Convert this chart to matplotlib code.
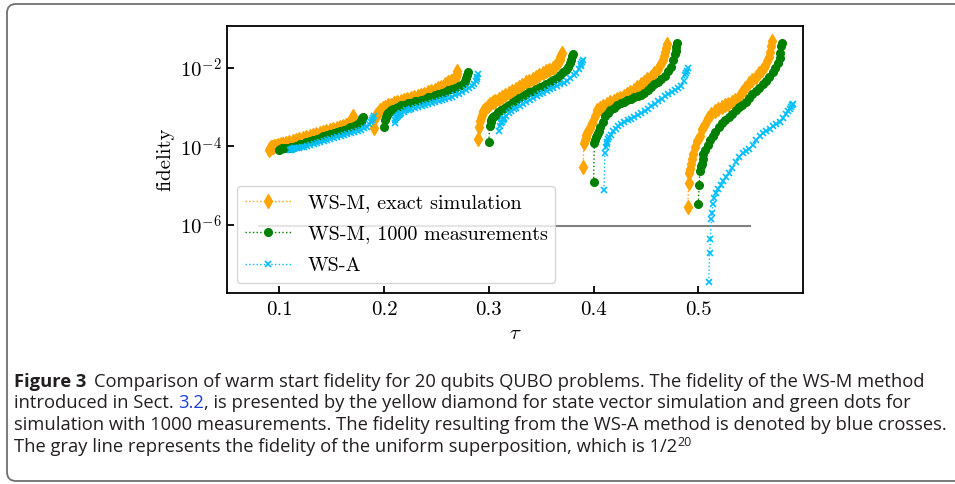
import numpy as np
import matplotlib
matplotlib.use("Agg")
import matplotlib.pyplot as plt
from matplotlib.patches import FancyBboxPatch
from matplotlib.transforms import IdentityTransform
from matplotlib.ticker import FixedLocator, NullLocator, FuncFormatter

# ---------------- data ----------------
taus = [0.1, 0.2, 0.3, 0.4, 0.5]
# rank (0..99) of the plotted instances after sorting by fidelity
ranks = [0, 1, 2, 3, 4, 5, 6, 8, 11, 14, 17, 20, 24, 28, 32, 36, 40, 44, 48, 52,
         56, 60, 64, 68, 72, 76, 80, 84, 88, 91, 94, 96, 97, 98, 99]
n_instances = 100
rank_span = 0.08
method_offsets = [-0.01, 0.0, 0.01]
uniform_fidelity = 2.0 ** -20
uniform_x = [0.08, 0.55]

# log10(fidelity), sorted
wsm_exact_01 = [-4.08, -4.04, -4.03, -4.02, -4.02, -4.01, -4.00, -3.99, -3.97, -3.95, -3.93, -3.91,
                -3.89, -3.86, -3.84, -3.81, -3.79, -3.76, -3.74, -3.71, -3.69, -3.66, -3.64, -3.61,
                -3.59, -3.56, -3.54, -3.51, -3.49, -3.47, -3.44, -3.39, -3.33, -3.28, -3.22]
wsm_meas_01 = [-4.10, -4.07, -4.06, -4.05, -4.05, -4.04, -4.04, -4.03, -4.03, -4.02, -4.01, -3.98,
               -3.95, -3.93, -3.90, -3.87, -3.84, -3.81, -3.78, -3.75, -3.72, -3.69, -3.67, -3.64,
               -3.61, -3.58, -3.55, -3.52, -3.49, -3.46, -3.42, -3.38, -3.34, -3.29, -3.25]
wsa_01 = [-4.10, -4.08, -4.07, -4.06, -4.06, -4.05, -4.05, -4.04, -4.03, -4.02, -4.01, -3.99,
          -3.97, -3.94, -3.92, -3.89, -3.87, -3.84, -3.82, -3.79, -3.76, -3.74, -3.71, -3.69,
          -3.66, -3.63, -3.61, -3.58, -3.54, -3.50, -3.44, -3.38, -3.33, -3.27, -3.22]

wsm_exact_02 = [-3.53, -3.32, -3.25, -3.21, -3.18, -3.15, -3.12, -3.08, -3.03, -2.99, -2.96, -2.94,
                -2.91, -2.88, -2.85, -2.82, -2.80, -2.78, -2.76, -2.73, -2.70, -2.67, -2.63, -2.60,
                -2.56, -2.53, -2.49, -2.43, -2.37, -2.33, -2.31, -2.29, -2.24, -2.17, -2.09]
wsm_meas_02 = [-3.52, -3.32, -3.25, -3.21, -3.18, -3.15, -3.12, -3.09, -3.05, -3.02, -2.99, -2.96,
               -2.94, -2.91, -2.89, -2.86, -2.84, -2.82, -2.79, -2.76, -2.74, -2.71, -2.68, -2.65,
               -2.61, -2.58, -2.55, -2.52, -2.48, -2.45, -2.40, -2.33, -2.26, -2.19, -2.12]
wsa_02 = [-3.40, -3.33, -3.29, -3.26, -3.23, -3.21, -3.19, -3.16, -3.12, -3.09, -3.07, -3.05,
          -3.02, -3.00, -2.97, -2.95, -2.93, -2.91, -2.88, -2.86, -2.83, -2.80, -2.77, -2.74,
          -2.71, -2.67, -2.63, -2.58, -2.52, -2.47, -2.41, -2.35, -2.30, -2.24, -2.17]

wsm_exact_03 = [-3.82, -3.50, -3.35, -3.27, -3.20, -3.14, -3.10, -3.04, -2.97, -2.92, -2.88, -2.84,
                -2.79, -2.74, -2.69, -2.64, -2.59, -2.54, -2.49, -2.44, -2.38, -2.33, -2.28, -2.23,
                -2.18, -2.14, -2.10, -2.06, -2.02, -1.96, -1.88, -1.80, -1.74, -1.69, -1.64]
wsm_meas_03 = [-3.88, -3.48, -3.38, -3.32, -3.28, -3.25, -3.23, -3.20, -3.14, -3.09, -3.04, -3.00,
               -2.94, -2.88, -2.83, -2.78, -2.73, -2.68, -2.63, -2.59, -2.55, -2.50, -2.46, -2.41,
               -2.36, -2.32, -2.26, -2.20, -2.12, -2.06, -1.98, -1.88, -1.80, -1.72, -1.65]
wsa_03 = [-3.60, -3.48, -3.42, -3.37, -3.33, -3.30, -3.27, -3.22, -3.16, -3.11, -3.06, -3.02,
          -2.97, -2.92, -2.87, -2.83, -2.78, -2.73, -2.68, -2.64, -2.60, -2.55, -2.51, -2.47,
          -2.43, -2.39, -2.33, -2.27, -2.20, -2.14, -2.05, -1.97, -1.92, -1.86, -1.80]

wsm_exact_04 = [-4.52, -3.92, -3.85, -3.78, -3.72, -3.67, -3.62, -3.54, -3.40, -3.24, -3.08, -3.02,
                -2.97, -2.92, -2.88, -2.85, -2.81, -2.78, -2.73, -2.68, -2.62, -2.57, -2.50, -2.43,
                -2.36, -2.29, -2.23, -2.15, -2.04, -1.94, -1.82, -1.70, -1.60, -1.50, -1.40]
wsm_meas_04 = [-4.90, -3.92, -3.84, -3.77, -3.72, -3.66, -3.61, -3.52, -3.38, -3.24, -3.15, -3.08,
               -3.02, -2.96, -2.91, -2.87, -2.83, -2.79, -2.76, -2.73, -2.70, -2.64, -2.57, -2.50,
               -2.43, -2.36, -2.29, -2.21, -2.10, -1.98, -1.82, -1.66, -1.58, -1.48, -1.39]
wsa_04 = [-5.11, -4.18, -4.02, -3.94, -3.88, -3.82, -3.77, -3.70, -3.62, -3.55, -3.49, -3.44,
          -3.39, -3.34, -3.30, -3.25, -3.20, -3.16, -3.10, -3.04, -2.98, -2.92, -2.86, -2.79,
          -2.73, -2.67, -2.62, -2.57, -2.52, -2.46, -2.34, -2.20, -2.14, -2.08, -2.02]

wsm_exact_05 = [-5.53, -4.94, -4.68, -4.58, -4.44, -4.32, -4.20, -4.02, -3.86, -3.73, -3.57, -3.44,
                -3.29, -3.18, -3.10, -3.05, -3.00, -2.96, -2.92, -2.87, -2.83, -2.74, -2.62, -2.51,
                -2.40, -2.31, -2.23, -2.14, -2.06, -1.97, -1.84, -1.74, -1.60, -1.46, -1.33]
wsm_meas_05 = [-5.45, -4.98, -4.62, -4.50, -4.44, -4.32, -4.20, -4.10, -3.97, -3.84, -3.74, -3.64,
               -3.52, -3.42, -3.33, -3.25, -3.17, -3.09, -3.01, -2.94, -2.87, -2.78, -2.68, -2.59,
               -2.51, -2.43, -2.34, -2.24, -2.12, -2.02, -1.88, -1.76, -1.62, -1.46, -1.37]
wsa_05 = [-7.44, -6.70, -6.34, -5.85, -5.68, -5.45, -5.30, -5.18, -5.07, -4.97, -4.88, -4.79,
          -4.68, -4.54, -4.39, -4.26, -4.18, -4.12, -4.06, -3.96, -3.85, -3.74, -3.66, -3.60,
          -3.55, -3.49, -3.44, -3.38, -3.28, -3.19, -3.10, -3.04, -3.00, -2.96, -2.92]

method_labels = ["WS-M, exact simulation", "WS-M, 1000 measurements", "WS-A"]
method_colors = ["orange", "green", "deepskyblue"]
method_markers = ["d", "o", "x"]
method_msizes = [7, 5.5, 5]

series = [
    [wsm_exact_01, wsm_meas_01, wsa_01],
    [wsm_exact_02, wsm_meas_02, wsa_02],
    [wsm_exact_03, wsm_meas_03, wsa_03],
    [wsm_exact_04, wsm_meas_04, wsa_04],
    [wsm_exact_05, wsm_meas_05, wsa_05],
]

x_ticks = [0.1, 0.2, 0.3, 0.4, 0.5]
y_ticks = [1e-6, 1e-4, 1e-2]

caption_lines = [
    ["Comparison of warm start fidelity for 20 qubits QUBO problems. The fidelity of the WS-M method"],
    ["introduced in Sect.", "3.2", ", is presented by the yellow diamond for state vector simulation and green dots for"],
    ["simulation with 1000 measurements. The fidelity resulting from the WS-A method is denoted by blue crosses."],
    ["The gray line represents the fidelity of the uniform superposition, which is 1/2", "20"],
]

# ---------------- figure ----------------
plt.rcParams["font.family"] = ["cmr10"]
plt.rcParams["mathtext.fontset"] = "cm"
plt.rcParams["axes.unicode_minus"] = False

W, H = 955, 484
fig = plt.figure(figsize=(W / 100, H / 100), dpi=100)
ax = fig.add_axes([227 / W, 1 - 293 / H, 576 / W, 267 / H])

ax.hlines(uniform_fidelity, uniform_x[0], uniform_x[1], color="gray", lw=1.5, zorder=1)

r = np.asarray(ranks, dtype=float)
for gi, tau in enumerate(taus):
    for mi in range(3):
        x = tau + method_offsets[mi] + rank_span * r / (n_instances - 1)
        y = 10.0 ** np.asarray(series[gi][mi])
        ax.plot(x, y, ls=":", lw=1.0, color=method_colors[mi], marker=method_markers[mi],
                ms=method_msizes[mi], mew=1.2 if method_markers[mi] == "x" else 1.0,
                label=method_labels[mi] if gi == 0 else None, zorder=2 + mi)

ax.set_yscale("log")
ax.set_xlim(0.05, 0.6)
ax.set_ylim(10 ** -7.72, 10 ** -0.947)
ax.xaxis.set_major_locator(FixedLocator(x_ticks))
ax.xaxis.set_major_formatter(FuncFormatter(lambda v, p: f"{v:.1f}"))
ax.yaxis.set_major_locator(FixedLocator(y_ticks))
ax.yaxis.set_minor_locator(NullLocator())
ax.yaxis.set_major_formatter(FuncFormatter(lambda v, p: rf"$10^{{{int(round(np.log10(v)))}}}$"))
ax.tick_params(direction="in", length=5, width=1.3, labelsize=15)
ax.tick_params(axis="x", pad=6)
ax.tick_params(axis="y", pad=3.5)
for sp in ax.spines.values():
    sp.set_linewidth(1.3)
ax.set_ylabel("fidelity", fontsize=15)
ax.yaxis.set_label_coords(-0.092, 0.5)
ax.set_xlabel(r"$\tau$", fontsize=15)
ax.legend(loc="lower left", fontsize=14.5, framealpha=0.8, handlelength=2.3, labelspacing=0.66)

# border around the whole figure
border = FancyBboxPatch((7, 3), 980, 477, boxstyle="round,pad=0,rounding_size=9",
                        transform=IdentityTransform(), fill=False, ec="#707070", lw=1.3)
fig.patches.append(border)

# ---------------- caption ----------------
fig.canvas.draw()
renderer = fig.canvas.get_renderer()
cap_font = ["Open Sans", "DejaVu Sans"]
txt_color = "#231f20"
link_color = "#1f3fd6"


def text_width(s, **kw):
    t = fig.text(0, 0, s, **kw)
    w = t.get_window_extent(renderer=renderer).width
    t.remove()
    return w


w3 = text_width(caption_lines[2][0], fontsize=12, family=cap_font)
cs = 12 * 932 / w3
space = text_width("a a", fontsize=cs, family=cap_font) - text_width("aa", fontsize=cs, family=cap_font)


def put(xpx, ybase, s, **kw):
    kw.setdefault("fontsize", cs)
    kw.setdefault("family", cap_font)
    kw.setdefault("color", txt_color)
    t = fig.text(xpx / W, 1 - ybase / H, s, va="baseline", ha="left", **kw)
    return xpx + t.get_window_extent(renderer=renderer).width


x0 = 14
baselines = [387, 408.5, 430, 451.5]
xe = put(x0, baselines[0], "Figure 3", fontweight="bold")
put(xe + 1.6 * space, baselines[0], caption_lines[0][0])

xe = put(x0, baselines[1], caption_lines[1][0])
xe = put(xe + space, baselines[1], caption_lines[1][1], color=link_color)
put(xe, baselines[1], caption_lines[1][2])

put(x0, baselines[2], caption_lines[2][0])

xe = put(x0, baselines[3], caption_lines[3][0])
put(xe + 0.5, baselines[3] - 0.45 * cs, caption_lines[3][1], fontsize=cs * 0.68)

fig.savefig("out.png", dpi=100)
